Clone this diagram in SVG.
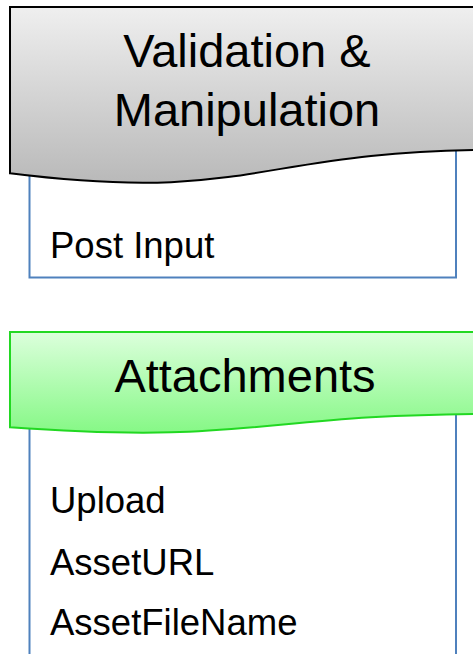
<svg xmlns="http://www.w3.org/2000/svg" width="473" height="654" viewBox="0 0 473 654">
  <defs>
    <linearGradient id="grayGrad" x1="0" y1="0" x2="0" y2="1">
      <stop offset="0" stop-color="#efefef"/>
      <stop offset="1" stop-color="#b9b9b9"/>
    </linearGradient>
    <linearGradient id="greenGrad" x1="0" y1="0" x2="0" y2="1">
      <stop offset="0" stop-color="#dcffdc"/>
      <stop offset="1" stop-color="#86f886"/>
    </linearGradient>
  </defs>
  <style>
    .list { fill: #ffffff; stroke: #4f81bd; stroke-width: 2; }
    .title { font-family: "Liberation Sans", Arial, sans-serif; font-size: 47px; fill: #000000; text-anchor: middle; }
    .item { font-family: "Liberation Sans", Arial, sans-serif; font-size: 36.5px; fill: #000000; }
    .hdrGray { fill: url(#grayGrad); stroke: #000000; stroke-width: 2; }
    .hdrGreen { fill: url(#greenGrad); stroke: #22d822; stroke-width: 2; }
  </style>
  <rect width="473" height="654" fill="#ffffff"/>

  <g id="validation-node">
    <rect class="list" x="29.5" y="150" width="426.5" height="127.5"/>
    <path class="hdrGray" d="M10,7 H500 V149.8 C255,149.8 255,204.1 10,173.3 Z"/>
    <text class="title" x="247" y="67">Validation &amp;</text>
    <text class="title" x="247" y="126">Manipulation</text>
    <text class="item" x="50" y="258">Post Input</text>
  </g>

  <g id="attachments-node">
    <rect class="list" x="29.5" y="410" width="426.5" height="260"/>
    <path class="hdrGreen" d="M10,332 H500 V413.8 C255,413.8 255,445 10,427.3 Z"/>
    <text class="title" x="245" y="392">Attachments</text>
    <text class="item" x="50" y="513">Upload</text>
    <text class="item" x="50" y="575">AssetURL</text>
    <text class="item" x="50" y="635">AssetFileName</text>
  </g>

  <g id="connectors"/>
</svg>
